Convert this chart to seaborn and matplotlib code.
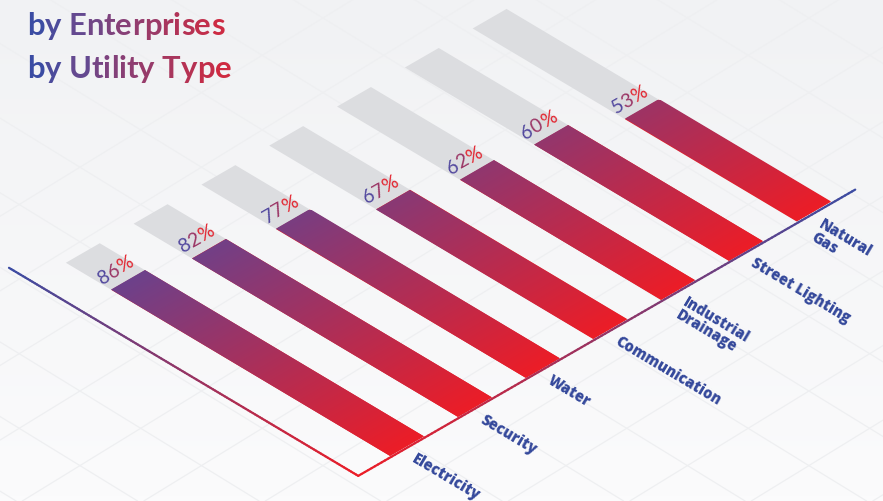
import numpy as np
import pandas as pd
import matplotlib
matplotlib.use('Agg')
import matplotlib.pyplot as plt
import seaborn as sns
from matplotlib.transforms import Affine2D
from matplotlib.colors import LinearSegmentedColormap, Normalize
from matplotlib.collections import LineCollection
from matplotlib.font_manager import FontProperties

# ==== DATA ====
categories = ['Electricity', 'Security', 'Water', 'Communication',
              'Industrial\nDrainage', 'Street Lighting', 'Natural\nGas']
shares = [86, 82, 77, 67, 62, 60, 53]
full_track = [100] * len(categories)
title_lines = ['by Enterprises', 'by Utility Type']

# ==== STYLE ====
W, H = 883, 502
red, purple, blue = '#ec1d27', '#58479b', '#3b4ca3'
label_blue = '#34489b'
track_grey = '#dcdde0'

sns.set_theme(style='white')
plt.rcParams['font.family'] = ['Lato', 'DejaVu Sans']

fig = plt.figure(figsize=(W / 100, H / 100), dpi=100)
ax = fig.add_axes([0, 0, 1, 1])

# isometric plane: x = category slot, y = percent  ->  pixel coords (y down)
iso = Affine2D(np.array([[67.8, -3.24, 406.8],
                         [-39.05, -1.93, 447.0],
                         [0.0, 0.0, 1.0]]))
iso_data = iso + ax.transData

# ==== BARS ====
df = pd.DataFrame({'utility': categories, 'share': shares, 'track': full_track})
sns.barplot(data=df, x='utility', y='track', color=track_grey, width=0.5,
            saturation=1, errorbar=None, linewidth=0, zorder=1, ax=ax)
sns.barplot(data=df, x='utility', y='share', color=red, width=0.5,
            saturation=1, errorbar=None, linewidth=0, zorder=2, ax=ax)

tracks, bars = ax.containers[0], ax.containers[1]
for bar in tracks:
    bar.set_transform(iso_data)

value_cmap = LinearSegmentedColormap.from_list('value', [red, purple])
for bar in bars:
    bar.set_transform(iso_data)
    x0, w, h = bar.get_x(), bar.get_width(), bar.get_height()
    ramp = np.linspace(0, h, 200).reshape(-1, 1)
    im = ax.imshow(ramp, cmap=value_cmap, norm=Normalize(0, 100),
                   extent=(x0, x0 + w, 0, h), origin='lower', aspect='auto',
                   interpolation='bilinear', transform=iso_data, zorder=3)
    im.set_clip_path(bar)

# ==== BACKGROUND + ISO GRID ====
bg_cmap = LinearSegmentedColormap.from_list('bg', ['#f1f2f4', '#fbfbfc'])
ax.imshow(np.linspace(0, 1, 100).reshape(-1, 1), cmap=bg_cmap,
          extent=(0, W, H, 0), aspect='auto', zorder=-10)
for k in range(-8, 9):
    for slope in (0.614, -0.614):
        ax.axline((626.7 + k * 121.5, 429.3), slope=slope,
                  color='#eeeff1', lw=0.9, zorder=-5)


# ==== AXIS LINES (gradient) ====
def gradient_line(p0, p1, c0, c1):
    t = np.linspace(0, 1, 150)
    pts = np.column_stack([p0[0] + (p1[0] - p0[0]) * t,
                           p0[1] + (p1[1] - p0[1]) * t])
    segs = np.stack([pts[:-1], pts[1:]], axis=1)
    cm = LinearSegmentedColormap.from_list('ln', [c0, c1])
    lc = LineCollection(segs, colors=cm(t[:-1]), linewidths=1.6,
                        transform=iso_data, zorder=4, capstyle='round')
    ax.add_collection(lc, autolim=False)


gradient_line((-0.74, -0.5), (-0.74, 107.3), red, blue)
gradient_line((-0.74, -0.5), (6.59, -0.5), red, blue)

# ==== CATEGORY LABELS ====
for bar, name in zip(bars, categories):
    x, y = iso.transform((bar.get_x() + bar.get_width() / 2 + 0.03, -2.6))
    ax.text(x, y, name, rotation=-30.8, rotation_mode='anchor', ha='left',
            va='top', color=label_blue, fontsize=10.5, fontweight=800,
            family=['Open Sans', 'DejaVu Sans'], linespacing=0.9, zorder=5)

# ==== GRADIENT TEXT (one glyph per text) ====
renderer = fig.canvas.get_renderer()


def text_width(s, fp):
    return renderer.get_text_width_height_descent(s, fp, ismath=False)[0]


def char_offsets(s, fp):
    w0 = text_width('|', fp)
    return [text_width(s[:k] + '|', fp) - w0 if k else 0.0 for k in range(len(s))]


pct_fp = FontProperties(family='Lato', size=14)
pct_cmap = LinearSegmentedColormap.from_list('pct', ['#52489e', '#e3242f'])
ang = 29.9
ca, sa = np.cos(np.radians(ang)), np.sin(np.radians(ang))
for bar in bars:
    v = bar.get_height()
    s = f'{v:.0f}%'
    cx, cy = iso.transform((bar.get_x() + bar.get_width() / 2, v + 3.0))
    total = text_width(s, pct_fp)
    for k, (ch, d) in enumerate(zip(s, char_offsets(s, pct_fp))):
        dd = d - total / 2
        ax.text(cx + dd * ca, cy - dd * sa, ch, fontproperties=pct_fp,
                rotation=ang, rotation_mode='anchor', ha='left', va='baseline',
                color=pct_cmap(k / (len(s) - 1)), zorder=5)

title_fp = FontProperties(family='Lato', weight='bold', size=22.3)
title_cmap = LinearSegmentedColormap.from_list(
    'title', [(0, '#3b4ca3'), (0.22, '#66498f'), (1, '#d8283a')])
for line, base_y in zip(title_lines, (35, 78)):
    for ch, d in zip(line, char_offsets(line, title_fp)):
        if ch == ' ':
            continue
        ax.text(27 + d, base_y, ch, fontproperties=title_fp,
                color=title_cmap(min(d / 200, 1)), ha='left', va='baseline',
                zorder=5)

ax.set_xlim(0, W)
ax.set_ylim(H, 0)
ax.set_axis_off()
fig.savefig('out.png', dpi=100)
